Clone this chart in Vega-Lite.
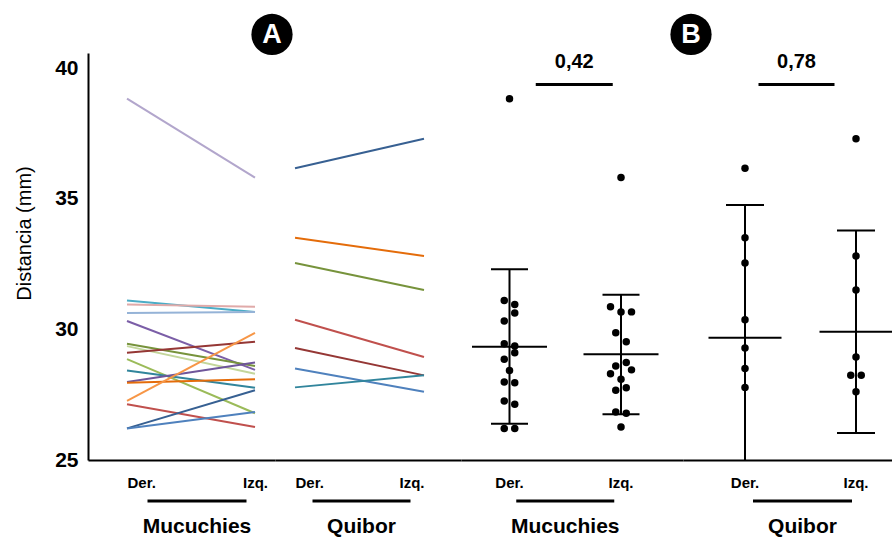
{
  "$schema": "https://vega.github.io/schema/vega-lite/v6.json",
  "autosize": {"type": "pad"},
  "padding": {"left": 14, "top": 13, "right": 0, "bottom": 0},
  "spacing": 0,
  "bounds": "flush",
  "config": {
    "font": "Liberation Sans",
    "view": {"stroke": null},
    "axis": {"domainColor": "#000", "domainWidth": 2, "ticks": false, "grid": false, "labelColor": "#000", "titleColor": "#000"}
  },
  "datasets": {
    "dist": [
      {"site": "Mucuchies", "id": "M1", "side": "Der.", "v": 38.83, "j": 0},
      {"site": "Mucuchies", "id": "M1", "side": "Izq.", "v": 35.81, "j": 0},
      {"site": "Mucuchies", "id": "M2", "side": "Der.", "v": 31.11, "j": -1},
      {"site": "Mucuchies", "id": "M2", "side": "Izq.", "v": 30.67, "j": 0},
      {"site": "Mucuchies", "id": "M3", "side": "Der.", "v": 30.95, "j": 1},
      {"site": "Mucuchies", "id": "M3", "side": "Izq.", "v": 30.87, "j": -2},
      {"site": "Mucuchies", "id": "M4", "side": "Der.", "v": 30.63, "j": 1},
      {"site": "Mucuchies", "id": "M4", "side": "Izq.", "v": 30.67, "j": 2},
      {"site": "Mucuchies", "id": "M5", "side": "Der.", "v": 30.32, "j": -1},
      {"site": "Mucuchies", "id": "M5", "side": "Izq.", "v": 28.45, "j": 2},
      {"site": "Mucuchies", "id": "M6", "side": "Der.", "v": 29.45, "j": -1},
      {"site": "Mucuchies", "id": "M6", "side": "Izq.", "v": 28.60, "j": -1},
      {"site": "Mucuchies", "id": "M7", "side": "Der.", "v": 29.36, "j": 1},
      {"site": "Mucuchies", "id": "M7", "side": "Izq.", "v": 28.30, "j": -2},
      {"site": "Mucuchies", "id": "M8", "side": "Der.", "v": 29.11, "j": 1},
      {"site": "Mucuchies", "id": "M8", "side": "Izq.", "v": 29.53, "j": 1},
      {"site": "Mucuchies", "id": "M9", "side": "Der.", "v": 28.86, "j": -1},
      {"site": "Mucuchies", "id": "M9", "side": "Izq.", "v": 26.79, "j": 1},
      {"site": "Mucuchies", "id": "M10", "side": "Der.", "v": 28.43, "j": 0},
      {"site": "Mucuchies", "id": "M10", "side": "Izq.", "v": 27.77, "j": 1},
      {"site": "Mucuchies", "id": "M11", "side": "Der.", "v": 27.99, "j": -1},
      {"site": "Mucuchies", "id": "M11", "side": "Izq.", "v": 28.73, "j": 1},
      {"site": "Mucuchies", "id": "M12", "side": "Der.", "v": 27.96, "j": 1},
      {"site": "Mucuchies", "id": "M12", "side": "Izq.", "v": 28.09, "j": 0},
      {"site": "Mucuchies", "id": "M13", "side": "Der.", "v": 27.26, "j": -1},
      {"site": "Mucuchies", "id": "M13", "side": "Izq.", "v": 29.87, "j": -1},
      {"site": "Mucuchies", "id": "M14", "side": "Der.", "v": 27.13, "j": 1},
      {"site": "Mucuchies", "id": "M14", "side": "Izq.", "v": 26.26, "j": 0},
      {"site": "Mucuchies", "id": "M15", "side": "Der.", "v": 26.21, "j": -1},
      {"site": "Mucuchies", "id": "M15", "side": "Izq.", "v": 27.67, "j": -1},
      {"site": "Mucuchies", "id": "M16", "side": "Der.", "v": 26.21, "j": 1},
      {"site": "Mucuchies", "id": "M16", "side": "Izq.", "v": 26.84, "j": -1},
      {"site": "Quibor", "id": "Q1", "side": "Der.", "v": 36.17, "j": 0},
      {"site": "Quibor", "id": "Q1", "side": "Izq.", "v": 37.30, "j": 0},
      {"site": "Quibor", "id": "Q2", "side": "Der.", "v": 33.51, "j": 0},
      {"site": "Quibor", "id": "Q2", "side": "Izq.", "v": 32.81, "j": 0},
      {"site": "Quibor", "id": "Q3", "side": "Der.", "v": 32.54, "j": 0},
      {"site": "Quibor", "id": "Q3", "side": "Izq.", "v": 31.51, "j": 0},
      {"site": "Quibor", "id": "Q4", "side": "Der.", "v": 30.37, "j": 0},
      {"site": "Quibor", "id": "Q4", "side": "Izq.", "v": 28.94, "j": 0},
      {"site": "Quibor", "id": "Q5", "side": "Der.", "v": 29.29, "j": 0},
      {"site": "Quibor", "id": "Q5", "side": "Izq.", "v": 28.24, "j": -1},
      {"site": "Quibor", "id": "Q6", "side": "Der.", "v": 28.50, "j": 0},
      {"site": "Quibor", "id": "Q6", "side": "Izq.", "v": 27.61, "j": 0},
      {"site": "Quibor", "id": "Q7", "side": "Der.", "v": 27.78, "j": 0},
      {"site": "Quibor", "id": "Q7", "side": "Izq.", "v": 28.24, "j": 1}
    ],
    "stats": [
      {"site": "Mucuchies", "side": "Der.", "mean": 29.34, "lo": 26.39, "hi": 32.30},
      {"site": "Mucuchies", "side": "Izq.", "mean": 29.05, "lo": 26.75, "hi": 31.33},
      {"site": "Quibor", "side": "Der.", "mean": 29.68, "lo": 24.60, "hi": 34.76},
      {"site": "Quibor", "side": "Izq.", "mean": 29.91, "lo": 26.03, "hi": 33.79}
    ]
  },
  "hconcat": [
    {
      "width": 187, "height": 407,
      "layer": [
        {
          "data": {"name": "dist"},
          "transform": [{"filter": "datum.site == 'Mucuchies'"}],
          "mark": {"type": "line", "strokeWidth": 2},
          "encoding": {
            "x": {"field": "side", "type": "nominal", "title": null,
              "scale": {"type": "point", "domain": ["Der.", "·", "Izq."], "padding": 0.461, "align": 0.661},
              "axis": {"values": ["Der.", "Izq."], "labelAngle": 0, "labelFontSize": 15, "labelFontWeight": "bold", "labelPadding": 15,
                "labelAlign": {"condition": {"test": "datum.value == 'Der.'", "value": "left"}, "value": "center"}}},
            "y": {"field": "v", "type": "quantitative", "title": "Distancia (mm)",
              "scale": {"domain": [25, 40.58], "nice": false, "zero": false},
              "axis": {"values": [25, 30, 35, 40], "labelFontSize": 21, "labelFontWeight": "bold", "labelPadding": 10,
                "titleFontSize": 20, "titleFontWeight": "normal", "titlePadding": 20, "titleY": 180}},
            "color": {"field": "id", "type": "nominal", "legend": null,
              "scale": {"domain": ["M1","M2","M3","M4","M5","M6","M7","M8","M9","M10","M11","M12","M13","M14","M15","M16","Q1","Q2","Q3","Q4","Q5","Q6","Q7"],
                "range": ["#b2a6cc","#4bacc6","#e0aaa9","#95b3d7","#7b5ea7","#77933c","#c3d69b","#953735","#9bbb59","#31859c","#6f569a","#e46c0a","#f79646","#c0504d","#376092","#4f81bd","#376092","#e46c0a","#77933c","#c0504d","#953735","#4f81bd","#31859c"]}},
            "detail": {"field": "id"}
          }
        },
        {
          "data": {"values": [{"t": "Mucuchies"}]},
          "mark": {"type": "text", "fontSize": 21, "fontWeight": "bold", "baseline": "alphabetic", "color": "#000", "xOffset": 6},
          "encoding": {"x": {"datum": "·"}, "y": {"datum": 22.22}, "text": {"field": "t"}}
        },
        {
          "data": {"values": [{"t": "Mucuchies"}]},
          "mark": {"type": "tick", "size": 99, "thickness": 3, "color": "#000", "opacity": 1, "xOffset": 6},
          "encoding": {"x": {"datum": "·"}, "y": {"datum": 23.43}}
        },
        {
          "data": {"values": [{"t": "A"}]},
          "mark": {"type": "point", "shape": "circle", "filled": true, "size": 1700, "color": "#000", "opacity": 1, "xOffset": 17},
          "encoding": {"x": {"datum": "Izq."}, "y": {"datum": 41.29}}
        },
        {
          "data": {"values": [{"t": "A"}]},
          "mark": {"type": "text", "fontSize": 27, "fontWeight": "bold", "baseline": "middle", "color": "#fff", "xOffset": 17, "dy": 1},
          "encoding": {"x": {"datum": "Izq."}, "y": {"datum": 41.29}, "text": {"field": "t"}}
        }
      ]
    },
    {
      "width": 186, "height": 407,
      "layer": [
        {
          "data": {"name": "dist"},
          "transform": [{"filter": "datum.site == 'Quibor'"}],
          "mark": {"type": "line", "strokeWidth": 2},
          "encoding": {
            "x": {"field": "side", "type": "nominal", "title": null,
              "scale": {"type": "point", "domain": ["Der.", "·", "Izq."], "padding": 0.442, "align": 0.351},
              "axis": {"values": ["Der.", "Izq."], "labelAngle": 0, "labelFontSize": 15, "labelFontWeight": "bold", "labelPadding": 15,
                "labelAlign": {"condition": {"test": "datum.value == 'Der.'", "value": "left"}, "value": "right"}}},
            "y": {"field": "v", "type": "quantitative", "scale": {"domain": [25, 40.58], "nice": false, "zero": false}, "axis": null},
            "color": {"field": "id", "type": "nominal", "legend": null},
            "detail": {"field": "id"}
          }
        },
        {
          "data": {"values": [{"t": "Quibor"}]},
          "mark": {"type": "text", "fontSize": 21, "fontWeight": "bold", "baseline": "alphabetic", "color": "#000", "xOffset": 2},
          "encoding": {"x": {"datum": "·"}, "y": {"datum": 22.22}, "text": {"field": "t"}}
        },
        {
          "data": {"values": [{"t": "Quibor"}]},
          "mark": {"type": "tick", "size": 98, "thickness": 3, "color": "#000", "opacity": 1, "xOffset": 2},
          "encoding": {"x": {"datum": "·"}, "y": {"datum": 23.43}}
        }
      ]
    },
    {
      "width": 222, "height": 407,
      "layer": [
        {
          "data": {"name": "dist"},
          "transform": [{"filter": "datum.site == 'Mucuchies'"}],
          "mark": {"type": "point", "shape": "circle", "filled": true, "size": 56, "color": "#000", "opacity": 1},
          "encoding": {
            "x": {"field": "side", "type": "nominal", "title": null,
              "scale": {"type": "band", "domain": ["Der.", "·", "Izq."], "paddingInner": 0.6233, "paddingOuter": 0.8027, "align": 0.4246},
              "axis": {"values": ["Der.", "Izq."], "labelAngle": 0, "labelFontSize": 15, "labelFontWeight": "bold", "labelPadding": 15}},
            "xOffset": {"field": "j", "type": "nominal", "scale": {"type": "point", "domain": [-2, -1, 0, 1, 2], "padding": 0}},
            "y": {"field": "v", "type": "quantitative", "scale": {"domain": [25, 40.58], "nice": false, "zero": false}, "axis": null}
          }
        },
        {
          "data": {"name": "stats"},
          "transform": [{"filter": "datum.site == 'Mucuchies'"}],
          "mark": {"type": "rule", "strokeWidth": 2, "color": "#000", "clip": true},
          "encoding": {"x": {"field": "side", "type": "nominal"}, "y": {"field": "lo", "type": "quantitative"}, "y2": {"field": "hi"}}
        },
        {
          "data": {"name": "stats"},
          "transform": [{"filter": "datum.site == 'Mucuchies'"}],
          "mark": {"type": "tick", "size": 37, "thickness": 2, "color": "#000", "opacity": 1, "clip": true},
          "encoding": {"x": {"field": "side", "type": "nominal"}, "y": {"field": "hi", "type": "quantitative"}}
        },
        {
          "data": {"name": "stats"},
          "transform": [{"filter": "datum.site == 'Mucuchies'"}],
          "mark": {"type": "tick", "size": 37, "thickness": 2, "color": "#000", "opacity": 1, "clip": true},
          "encoding": {"x": {"field": "side", "type": "nominal"}, "y": {"field": "lo", "type": "quantitative"}}
        },
        {
          "data": {"name": "stats"},
          "transform": [{"filter": "datum.site == 'Mucuchies'"}],
          "mark": {"type": "tick", "size": 75, "thickness": 2, "color": "#000", "opacity": 1},
          "encoding": {"x": {"field": "side", "type": "nominal"}, "y": {"field": "mean", "type": "quantitative"}}
        },
        {
          "data": {"values": [{"t": "Mucuchies"}]},
          "mark": {"type": "text", "fontSize": 21, "fontWeight": "bold", "baseline": "alphabetic", "color": "#000"},
          "encoding": {"x": {"datum": "·"}, "y": {"datum": 22.22}, "text": {"field": "t"}}
        },
        {
          "data": {"values": [{"t": "Mucuchies"}]},
          "mark": {"type": "tick", "size": 98, "thickness": 3, "color": "#000", "opacity": 1},
          "encoding": {"x": {"datum": "·"}, "y": {"datum": 23.43}}
        },
        {
          "data": {"values": [{"t": "0,42"}]},
          "mark": {"type": "text", "fontSize": 20, "fontWeight": "bold", "baseline": "alphabetic", "color": "#000", "xOffset": 9},
          "encoding": {"x": {"datum": "·"}, "y": {"datum": 40.02}, "text": {"field": "t"}}
        },
        {
          "data": {"values": [{"t": "0,42"}]},
          "mark": {"type": "tick", "size": 77, "thickness": 3, "color": "#000", "opacity": 1, "xOffset": 9},
          "encoding": {"x": {"datum": "·"}, "y": {"datum": 39.37}}
        }
      ]
    },
    {
      "width": 210, "height": 407,
      "layer": [
        {
          "data": {"name": "dist"},
          "transform": [{"filter": "datum.site == 'Quibor'"}],
          "mark": {"type": "point", "shape": "circle", "filled": true, "size": 56, "color": "#000", "opacity": 1},
          "encoding": {
            "x": {"field": "side", "type": "nominal", "title": null,
              "scale": {"type": "band", "domain": ["Der.", "·", "Izq."], "paddingInner": 0.6216, "paddingOuter": 0.7027, "align": 0.6603},
              "axis": {"values": ["Der.", "Izq."], "labelAngle": 0, "labelFontSize": 15, "labelFontWeight": "bold", "labelPadding": 15}},
            "xOffset": {"field": "j", "type": "nominal", "scale": {"type": "point", "domain": [-2, -1, 0, 1, 2], "padding": 0}},
            "y": {"field": "v", "type": "quantitative", "scale": {"domain": [25, 40.58], "nice": false, "zero": false}, "axis": null}
          }
        },
        {
          "data": {"name": "stats"},
          "transform": [{"filter": "datum.site == 'Quibor'"}],
          "mark": {"type": "rule", "strokeWidth": 2, "color": "#000", "clip": true},
          "encoding": {"x": {"field": "side", "type": "nominal"}, "y": {"field": "lo", "type": "quantitative"}, "y2": {"field": "hi"}}
        },
        {
          "data": {"name": "stats"},
          "transform": [{"filter": "datum.site == 'Quibor'"}],
          "mark": {"type": "tick", "size": 38, "thickness": 2, "color": "#000", "opacity": 1, "clip": true},
          "encoding": {"x": {"field": "side", "type": "nominal"}, "y": {"field": "hi", "type": "quantitative"}}
        },
        {
          "data": {"name": "stats"},
          "transform": [{"filter": "datum.site == 'Quibor'"}],
          "mark": {"type": "tick", "size": 38, "thickness": 2, "color": "#000", "opacity": 1, "clip": true},
          "encoding": {"x": {"field": "side", "type": "nominal"}, "y": {"field": "lo", "type": "quantitative"}}
        },
        {
          "data": {"name": "stats"},
          "transform": [{"filter": "datum.site == 'Quibor'"}],
          "mark": {"type": "tick", "size": 73, "thickness": 2, "color": "#000", "opacity": 1},
          "encoding": {"x": {"field": "side", "type": "nominal"}, "y": {"field": "mean", "type": "quantitative"}}
        },
        {
          "data": {"values": [{"t": "Quibor"}]},
          "mark": {"type": "text", "fontSize": 21, "fontWeight": "bold", "baseline": "alphabetic", "color": "#000", "xOffset": 2},
          "encoding": {"x": {"datum": "·"}, "y": {"datum": 22.22}, "text": {"field": "t"}}
        },
        {
          "data": {"values": [{"t": "Quibor"}]},
          "mark": {"type": "tick", "size": 99, "thickness": 3, "color": "#000", "opacity": 1, "xOffset": 2},
          "encoding": {"x": {"datum": "·"}, "y": {"datum": 23.43}}
        },
        {
          "data": {"values": [{"t": "0,78"}]},
          "mark": {"type": "text", "fontSize": 20, "fontWeight": "bold", "baseline": "alphabetic", "color": "#000", "xOffset": -4},
          "encoding": {"x": {"datum": "·"}, "y": {"datum": 40.02}, "text": {"field": "t"}}
        },
        {
          "data": {"values": [{"t": "0,78"}]},
          "mark": {"type": "tick", "size": 76, "thickness": 3, "color": "#000", "opacity": 1, "xOffset": -4},
          "encoding": {"x": {"datum": "·"}, "y": {"datum": 39.37}}
        },
        {
          "data": {"values": [{"t": "B"}]},
          "mark": {"type": "point", "shape": "circle", "filled": true, "size": 1700, "color": "#000", "opacity": 1, "xOffset": -54},
          "encoding": {"x": {"datum": "Der."}, "y": {"datum": 41.29}}
        },
        {
          "data": {"values": [{"t": "B"}]},
          "mark": {"type": "text", "fontSize": 27, "fontWeight": "bold", "baseline": "middle", "color": "#fff", "xOffset": -54, "dy": 1},
          "encoding": {"x": {"datum": "Der."}, "y": {"datum": 41.29}, "text": {"field": "t"}}
        }
      ]
    }
  ]
}
